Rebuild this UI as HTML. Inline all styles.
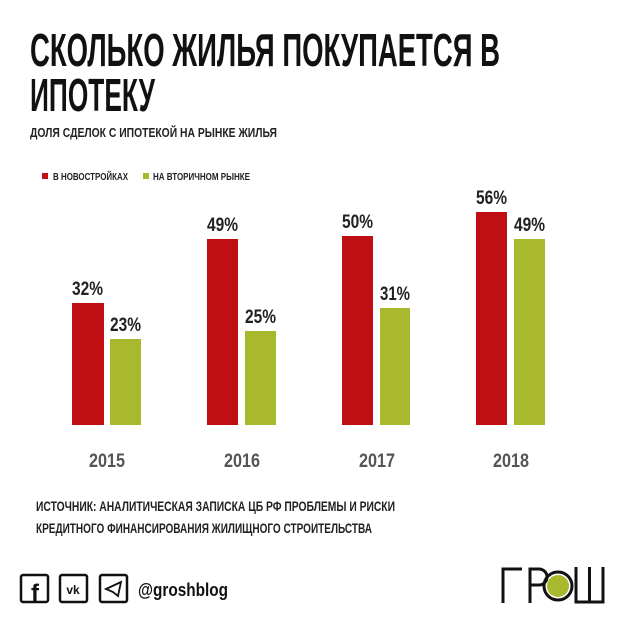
<!DOCTYPE html>
<html><head><meta charset="utf-8"><style>
body{margin:0;background:#fff}
text{font-family:"Liberation Sans Narrow","Liberation Sans","DejaVu Sans",sans-serif;font-weight:bold}
</style></head><body>
<svg width="620" height="620" xmlns="http://www.w3.org/2000/svg">
<rect width="620" height="620" fill="#fff"/>
<text x="30" y="66" font-size="46" textLength="470" lengthAdjust="spacingAndGlyphs" fill="#111">СКОЛЬКО ЖИЛЬЯ ПОКУПАЕТСЯ В</text>
<text x="30" y="111" font-size="46" textLength="125" lengthAdjust="spacingAndGlyphs" fill="#111">ИПОТЕКУ</text>
<text x="30" y="137" font-size="13" textLength="247" lengthAdjust="spacingAndGlyphs" fill="#222">ДОЛЯ СДЕЛОК С ИПОТЕКОЙ НА РЫНКЕ ЖИЛЬЯ</text>
<rect x="42" y="173" width="6" height="6" fill="#c00f12"/>
<text x="53" y="180" font-size="10" textLength="75" lengthAdjust="spacingAndGlyphs" fill="#222">В НОВОСТРОЙКАХ</text>
<rect x="143" y="173" width="6" height="6" fill="#a8b92e"/>
<text x="153" y="180" font-size="10" textLength="97" lengthAdjust="spacingAndGlyphs" fill="#222">НА ВТОРИЧНОМ РЫНКЕ</text>
<g fill="#c00f12">
<rect x="72" y="303" width="32" height="122"/>
<rect x="207" y="239" width="31" height="186"/>
<rect x="342" y="236" width="31" height="189"/>
<rect x="476" y="212" width="31" height="213"/>
</g>
<g fill="#a8b92e">
<rect x="110" y="339" width="31" height="86"/>
<rect x="245" y="331" width="31" height="94"/>
<rect x="380" y="308" width="30" height="117"/>
<rect x="514" y="239" width="31" height="186"/>
</g>
<g font-size="19" fill="#222">
<text x="72" y="295" textLength="31" lengthAdjust="spacingAndGlyphs">32%</text><text x="110" y="331" textLength="31" lengthAdjust="spacingAndGlyphs">23%</text>
<text x="207" y="231" textLength="31" lengthAdjust="spacingAndGlyphs">49%</text><text x="245" y="323" textLength="31" lengthAdjust="spacingAndGlyphs">25%</text>
<text x="342" y="228" textLength="31" lengthAdjust="spacingAndGlyphs">50%</text><text x="380" y="300" textLength="30" lengthAdjust="spacingAndGlyphs">31%</text>
<text x="476" y="204" textLength="31" lengthAdjust="spacingAndGlyphs">56%</text><text x="514" y="231" textLength="31" lengthAdjust="spacingAndGlyphs">49%</text>
</g>
<g font-size="19" fill="#555">
<text x="89" y="467" textLength="36" lengthAdjust="spacingAndGlyphs">2015</text><text x="224" y="467" textLength="36" lengthAdjust="spacingAndGlyphs">2016</text><text x="359" y="467" textLength="36" lengthAdjust="spacingAndGlyphs">2017</text><text x="493" y="467" textLength="36" lengthAdjust="spacingAndGlyphs">2018</text>
</g>
<text x="36" y="511" font-size="13.5" textLength="359" lengthAdjust="spacingAndGlyphs" fill="#222">ИСТОЧНИК: АНАЛИТИЧЕСКАЯ ЗАПИСКА ЦБ РФ ПРОБЛЕМЫ И РИСКИ</text>
<text x="36" y="533" font-size="13.5" textLength="336" lengthAdjust="spacingAndGlyphs" fill="#222">КРЕДИТНОГО ФИНАНСИРОВАНИЯ ЖИЛИЩНОГО СТРОИТЕЛЬСТВА</text>
<g fill="none" stroke="#111" stroke-width="2.5">
<rect x="21" y="575" width="27" height="27" rx="2"/>
<rect x="60" y="575" width="27" height="27" rx="2"/>
<rect x="100" y="575" width="27" height="27" rx="2"/>
</g>
<text x="35" y="601" font-size="24" fill="#111" text-anchor="middle">f</text>
<text x="73" y="594" font-size="12" fill="#111" text-anchor="middle">vk</text>
<path d="M106 589 L121 582 L118 596 L113 592 Z" fill="none" stroke="#111" stroke-width="1.8"/>
<text x="138" y="596" font-size="18" textLength="90" lengthAdjust="spacingAndGlyphs" fill="#111">@groshblog</text>
<g fill="none" stroke="#111" stroke-width="3">
<path d="M503 603 V569 H522"/>
<path d="M530 603 V569 H539 A8 8 0 0 1 539 585 H530"/>
<path d="M576 567 V602 H603 V567 M589.5 567 V602"/>
</g>
<circle cx="558" cy="586" r="14" fill="none" stroke="#111" stroke-width="3"/>
<circle cx="558" cy="586" r="11" fill="#a8b92e"/>
</svg>
</body></html>
